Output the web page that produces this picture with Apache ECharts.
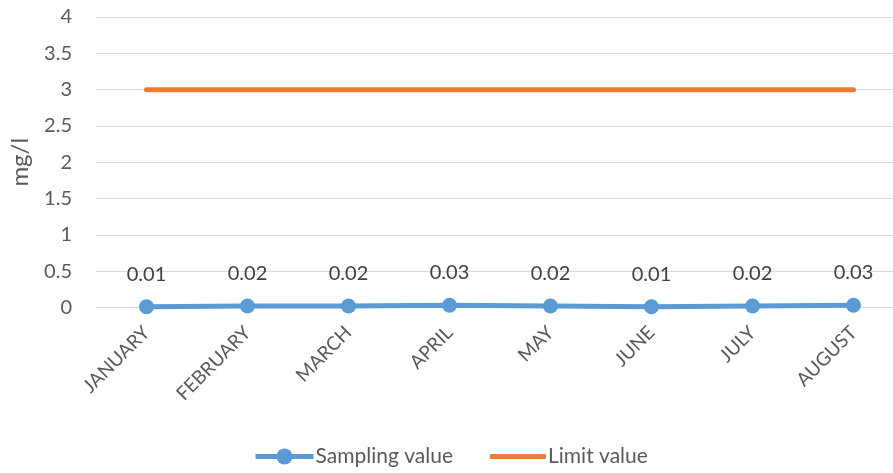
<!DOCTYPE html>
<html>
<head>
<meta charset="utf-8">
<script src="https://cdn.jsdelivr.net/npm/echarts@6/dist/echarts.min.js"></script>
<style>
  html, body { margin: 0; padding: 0; background: #fff; overflow: hidden; }
  #wrap { width: 893px; height: 473px; overflow: hidden; }
  /* the plot area runs a little past the right edge, so the canvas is wider than the view */
  #chart { width: 904px; height: 473px; }
</style>
</head>
<body>
<div id="wrap"><div id="chart"></div></div>
<script>
// Monthly sampling results against the permitted limit
const months = ['JANUARY', 'FEBRUARY', 'MARCH', 'APRIL', 'MAY', 'JUNE', 'JULY', 'AUGUST'];
const samplingValues = [0.01, 0.02, 0.02, 0.03, 0.02, 0.01, 0.02, 0.03];
const limitValues = [3, 3, 3, 3, 3, 3, 3, 3];
const yTicks = { min: 0, max: 4, interval: 0.5 };
const unitLabel = 'mg/l';

const font = 'Lato, "Open Sans", sans-serif';
const blue = '#5B9BD5';
const orange = '#ED7D31';
const chart = echarts.init(document.getElementById('chart'));

const legendText = { fontFamily: font, fontSize: 21, color: '#595959', padding: [0, 0, 0, -3] };

chart.setOption({
  animation: false,
  textStyle: { fontFamily: font },
  grid: { left: 96, right: 0, top: 17, bottom: 165.5, containLabel: false },
  legend: [
    {
      left: 253,
      top: 446,
      padding: 0,
      itemWidth: 58,
      itemHeight: 20,
      lineStyle: { width: 5 },
      textStyle: legendText,
      data: ['Sampling value']
    },
    {
      left: 490,
      top: 446,
      padding: 0,
      itemWidth: 56,
      itemHeight: 5,
      icon: 'roundRect',
      textStyle: legendText,
      data: ['Limit value']
    }
  ],
  xAxis: {
    type: 'category',
    data: months,
    boundaryGap: true,
    axisLine: { show: true, lineStyle: { color: '#d9d9d9', width: 1 } },
    axisTick: { show: false },
    axisLabel: {
      rotate: 45,
      interval: 0,
      margin: 22,
      fontFamily: font,
      fontSize: 19,
      color: '#595959'
    }
  },
  yAxis: {
    type: 'value',
    min: yTicks.min,
    max: yTicks.max,
    interval: yTicks.interval,
    name: unitLabel,
    nameLocation: 'middle',
    nameRotate: 90,
    nameGap: 64,
    nameTextStyle: { fontFamily: font, fontSize: 24, color: '#595959' },
    axisLine: { show: false },
    axisTick: { show: false },
    splitLine: { lineStyle: { color: '#d9d9d9', width: 1 } },
    axisLabel: {
      margin: 24,
      fontFamily: font,
      fontSize: 20,
      color: '#595959'
    }
  },
  series: [
    {
      name: 'Sampling value',
      type: 'line',
      data: samplingValues,
      symbol: 'circle',
      symbolSize: 15,
      itemStyle: { color: blue },
      lineStyle: { color: blue, width: 5 },
      label: {
        show: true,
        position: 'top',
        distance: 15,
        fontFamily: font,
        fontSize: 20,
        color: '#404040',
        formatter: p => p.value.toFixed(2)
      },
      z: 3
    },
    {
      name: 'Limit value',
      type: 'line',
      data: limitValues,
      symbol: 'none',
      itemStyle: { color: orange },
      lineStyle: { color: orange, width: 5, cap: 'round' },
      z: 2
    }
  ]
});
</script>
</body>
</html>
